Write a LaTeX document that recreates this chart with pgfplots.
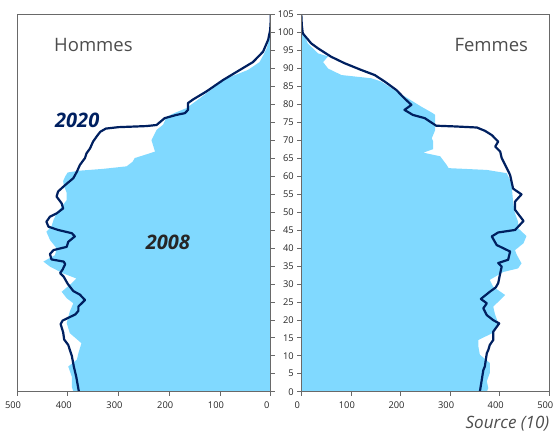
\documentclass[border=0pt]{standalone}
\usepackage{pgfplots}
\pgfplotsset{compat=1.18}
\usepackage{fontspec}
\setmainfont{Open Sans}
\definecolor{fillA}{RGB}{128,217,255}
\definecolor{navyB}{RGB}{0,32,96}
\definecolor{axgray}{RGB}{105,105,105}
\definecolor{txtgray}{RGB}{77,77,77}
\begin{document}
\begin{tikzpicture}[x=1pt,y=1pt]
\path[use as bounding box] (0,0) rectangle (555,433);
\pgfplotsset{
  pyr/.style={
    scale only axis, height=377.4pt,
    xmin=0, xmax=500, ymin=0, ymax=105,
    xtick={0,100,...,500}, ytick={0,5,...,105},
    tick align=outside, major tick length=4pt,
    xtick pos=left,
    axis line style={axgray, line width=0.7pt},
    tick style={axgray, line width=0.6pt},
    ticklabel style={font=\fontsize{9.3}{10}\selectfont, text=black!85},
    xticklabel style={xshift=-4pt, yshift=-2.5pt},
    /pgf/number format/assume math mode=true,
    axis on top,
  }
}
% ---------------- Hommes ----------------
\begin{axis}[pyr, at={(17pt,41.3pt)}, anchor=south west, width=253.7pt,
  x dir=reverse, ytick pos=right, yticklabels={}]
\addplot[fill=fillA, draw=none] coordinates {
(0,0) (389,0) (392,1.4) (392,4.2) (399,7) (382,8.9) (379,10.7) (373,13.5)
(396,16.3) (402,19.1) (396,22.3) (389,24.6) (402,26) (412,27.8) (392,30.2)
(383,31.5) (409,32.9) (435,34.8) (448,36.2) (425,38) (422,39.9) (435,42.2)
(442,44.5) (432,46) (428,47.8) (422,49.6) (412,51.5) (402,53.3) (402,55.3)
(408,57.5) (409,58.6) (405,59.9) (400,61) (376,61.5) (330,62) (284,62.7)
(272,64) (268,65) (250,65.8) (228,66.8) (235,70) (225,72.8) (212,74.3)
(205,76.5) (190,77.5) (166,78.9) (140,81.6) (114,84.4) (87,87.2) (61,88.6)
(45,89.5) (22,91.7) (15,93.5) (8,95.5) (3,98) (1,100.5) (0,102)
};
\addplot[navyB, line width=2.2pt, line join=round] coordinates {
(378,0) (383,4) (388,7) (392,10) (399,13) (407,14.5) (409,16.5) (414,18.8)
(410,19.8) (385,21.5) (379,22.5) (379,23.7) (366,25.5) (376,27) (389,28)
(400,30) (408,32) (415,33) (410,34) (405,35.5) (408,36.2) (432,36.8)
(435,38.3) (428,39.4) (402,40.3) (399,41.7) (386,43.2) (392,44.1) (419,45)
(438,45.9) (442,47.3) (435,48.7) (422,49.6) (409,51) (412,52.4) (422,54.3)
(419,55.7) (405,57.5) (389,59.4) (382,61.2) (376,63.1) (366,65) (363,66.3)
(356,67.7) (350,69.6) (343,71) (336,72.3) (325,73.2) (300,73.6) (245,73.9)
(225,74.2) (209,76.1) (186,77) (169,77.5) (163,78.4) (163,80.3) (153,81.3)
(127,83.5) (94,86.7) (61,89.5) (35,91.7) (15,94.6) (5,97.9) (1,100.6)
(0,103) (0,105)
};
\end{axis}
% ---------------- Femmes ----------------
\begin{axis}[pyr, at={(301.3pt,41.3pt)}, anchor=south west, width=248pt,
  ytick pos=left]
\addplot[fill=fillA, draw=none] coordinates {
(0,0) (374,0) (377,1) (374,2.9) (380,5.2) (380,8) (360,10.3) (357,12.6)
(357,14.4) (384,16.2) (397,19) (390,21.8) (387,23.7) (401,25.5) (411,26.9)
(387,29.2) (380,31.1) (407,33.3) (437,34.3) (444,35.7) (434,38.2) (431,39.4)
(448,41.3) (454,43.3) (437,45.5) (437,47.3) (430,50) (427,52.9) (424,57.5)
(421,58.9) (414,60.8) (374,61.7) (297,62.2) (293,63.1) (280,65.5) (246,66.5)
(266,67.5) (266,69.6) (263,70.5) (270,72.8) (270,77) (265,77.5) (242,79.3)
(215,81.6) (188,83.9) (161,86.3) (141,87.2) (81,88.1) (54,89.9) (44,91.7)
(54,93.3) (34,94.1) (13,96.9) (2,100.6) (0,102)
};
\addplot[navyB, line width=2.2pt, line join=round] coordinates {
(360,0) (367,6) (370,7) (374,10.7) (377,11.6) (380,13) (387,14.4) (387,16.7)
(399,19) (387,19.9) (374,21.3) (367,23.2) (374,24.6) (362,25.8) (380,27.8)
(392,29) (397,30.2) (401,32.9) (404,34.8) (397,35.8) (417,36.7) (421,39)
(394,40.8) (384,43.2) (397,44.3) (431,45) (448,47.5) (431,50.6) (431,52.9)
(444,54.9) (427,56.5) (424,58.4) (421,60.3) (411,63.1) (404,65) (401,66.8)
(391,68.2) (397,69.6) (384,71.4) (370,72.6) (354,73.5) (310,73.8) (272,74)
(249,76.1) (225,77) (208,78.4) (222,79.8) (208,81.6) (192,83.9) (168,86.3)
(148,88.1) (121,89.5) (87,91.4) (60,93.2) (34,95.5) (20,96.9) (3,99.7)
(1,102) (0,105)
};
\end{axis}
% ---------------- texts ----------------
\node[anchor=base west, inner sep=0pt, text=txtgray, font=\fontsize{18.5}{20}\selectfont] at (54,381.3) {Hommes};
\node[anchor=base west, inner sep=0pt, text=txtgray, font=\fontsize{18.5}{20}\selectfont] at (454.3,381.3) {Femmes};
\node[anchor=base west, inner sep=0pt, text=navyB, font=\fontsize{20}{22}\selectfont\bfseries\itshape] at (55,305) {2020};
\node[anchor=base west, inner sep=0pt, text=black!85, font=\fontsize{20}{22}\selectfont\bfseries\itshape] at (145.7,183.7) {2008};
\node[anchor=base east, inner sep=0pt, text=txtgray, font=\fontsize{17}{19}\selectfont\itshape] at (549.5,4.7) {Source (10)};
\end{tikzpicture}
\end{document}
